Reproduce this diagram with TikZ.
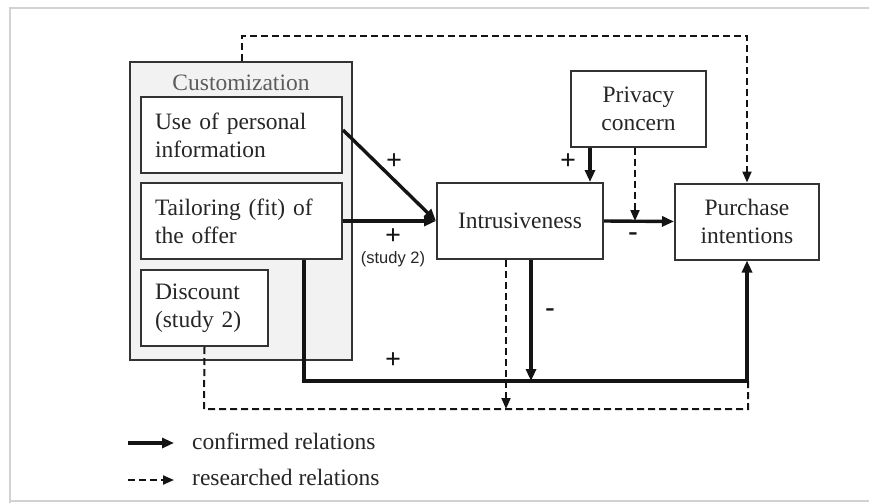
\documentclass[tikz,border=0pt]{standalone}
\usepackage{fontspec}
\setmainfont{Liberation Serif}
\newfontfamily\labsans{Liberation Sans}
\usetikzlibrary{arrows.meta,calc}
\definecolor{ink}{HTML}{141414}
\definecolor{txt}{HTML}{262626}
\definecolor{boxline}{HTML}{333333}
\definecolor{groupfill}{HTML}{F2F2F2}
\begin{document}
\begin{tikzpicture}[x=1pt,y=-1pt,
  every node/.style={font=\fontsize{23.5}{28}\selectfont, text=txt},
  box/.style={draw=boxline, line width=2pt, fill=white, inner sep=0pt, align=center},
  lbox/.style={draw=boxline, line width=2pt, fill=white, inner xsep=14pt, inner ysep=0pt, align=left},
  groupbox/.style={draw=boxline, line width=2pt, fill=groupfill, inner sep=0pt},
  solidarrow/.style={draw=ink, line width=3.4pt, -{Triangle[length=12pt,width=10pt]}},
  dasharrow/.style={draw=ink, line width=2pt, dash pattern=on 7pt off 4pt, -{Triangle[length=11pt,width=9pt]}},
  dashline/.style={draw=ink, line width=2pt, dash pattern=on 7pt off 4pt},
  sign/.style={font=\fontsize{28}{28}\selectfont\bfseries, text=ink, inner sep=0pt},
  small/.style={font=\labsans\fontsize{16.5}{18}\selectfont, text=txt, inner sep=0pt}
]
\useasboundingbox (0,0) rectangle (869,503);
% outer frame
\draw[gray!35, line width=1.5pt] (10,503) -- (10,8) -- (869,8);
\draw[gray!35, line width=1.5pt] (10,501) -- (869,501);

% group
\node[groupbox, minimum width=222pt, minimum height=298pt] (cust) at (241,211) {};
\node[text=txt!75] (custt) at (241,83) {Customization};

\node[lbox, text width=173pt, minimum height=76pt] (use) at (241.5,135) {Use of personal\\information};
\node[lbox, text width=173pt, minimum height=76pt] (tail) at (241.5,221) {Tailoring (fit) of\\the offer};
\node[lbox, text width=99pt, minimum height=76pt] (disc) at (204.5,308) {Discount\\(study 2)};

\node[box, minimum width=166pt, minimum height=76pt] (intr) at (520,221) {Intrusiveness};
\node[box, minimum width=135pt, minimum height=76pt] (priv) at (638.5,108.5) {Privacy\\concern};
\node[box, minimum width=144pt, minimum height=76pt] (purch) at (747,221.5) {Purchase\\intentions};

% helper coordinates
\coordinate (xPc) at (590,0);
\coordinate (xPd) at (635,221);
\coordinate (xId) at (506,409);
\coordinate (xIs) at (531,381);
\coordinate (tA) at (304,0);
\coordinate (tB) at (304,381);
\coordinate (tC) at (747,381);
\coordinate (dB) at (204,409);
\coordinate (dC) at (748,409);
\coordinate (dD) at (748,381);
\coordinate (cA) at (242,0);
\coordinate (cB) at (242,36);
\coordinate (cC) at (747,36);

% solid relations
\draw[solidarrow] ([yshift=5pt]use.east) -- (intr.west);
\draw[solidarrow] (tail.east) -- (intr.west);
\draw[solidarrow] (xPc |- priv.south) -- (xPc |- intr.north);
\draw[solidarrow] (intr.east) -- (purch.west);
\draw[solidarrow] (xIs |- intr.south) -- (xIs);
\draw[solidarrow] (tA |- tail.south) -- (tB) -- (tC) -- (purch.south);

% dashed relations
\draw[dasharrow] (xPd |- priv.south) -- (xPd);
\draw[dasharrow] (xId |- intr.south) -- (xId);
\draw[dashline] (disc.south) -- (dB) -- (dC) -- (dD);
\draw[dasharrow] (cA |- cust.north) -- (cB) -- (cC) -- (purch.north);

% signs
\node[sign] (s1) at (394,162) {+};
\node[sign] (s2) at (393,237) {+};
\node[small] (s2b) at (393,259) {(study 2)};
\node[sign] (s3) at (568,162) {+};
\node[sign] (s4) at (633,237) {-};
\node[sign] (s5) at (550,313) {-};
\node[sign] (s6) at (393,361) {+};

% legend
\coordinate (l1a) at (128,443);
\coordinate (l1b) at (174,443);
\coordinate (l2a) at (128,480);
\coordinate (l2b) at (174,480);
\draw[solidarrow] (l1a) -- (l1b);
\draw[dasharrow] (l2a) -- (l2b);
\node[anchor=west, inner sep=0pt] (leg1) at (192,441) {confirmed relations};
\node[anchor=west, inner sep=0pt] (leg2) at (192,477) {researched relations};
\end{tikzpicture}
\end{document}
